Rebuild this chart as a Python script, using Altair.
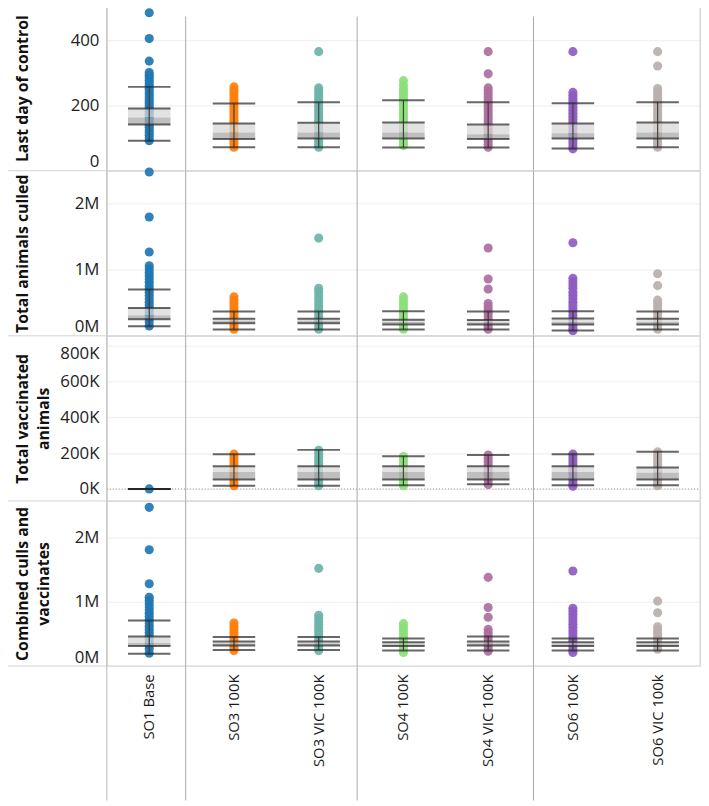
import altair as alt
import pandas as pd

scenarios = ["SO1 Base", "SO3 100K", "SO3 VIC 100K", "SO4 100K",
             "SO4 VIC 100K", "SO6 100K", "SO6 VIC 100k"]
colors = ["#1f77b4", "#ff7f0e", "#6cb4a8", "#8ce07a", "#ad6fa0", "#8f5cc2", "#bab0ac"]

# ---- Row 1: Last day of control (days) ----
last_day_dots = [
    [484, 405, 336, 301, 293, 285, 277, 269, 261, 253, 245, 237, 229, 221, 213, 205, 197,
     189, 181, 173, 165, 157, 149, 141, 133, 125, 117, 109, 100, 92],
    [257, 247, 238, 229, 219, 210, 201, 192, 182, 173, 164, 155, 146, 137, 128, 119, 110,
     101, 92, 83, 72],
    [365, 254, 245, 236, 226, 217, 208, 199, 189, 180, 171, 162, 153, 144, 135, 126, 117,
     108, 99, 90, 81, 72],
    [276, 262, 250, 241, 232, 222, 213, 204, 195, 185, 176, 167, 158, 149, 140, 131, 122,
     113, 104, 95, 86, 77],
    [365, 297, 254, 245, 236, 226, 217, 208, 199, 189, 180, 171, 162, 153, 144, 135, 126,
     117, 108, 99, 90, 81, 72],
    [365, 240, 231, 222, 213, 204, 194, 185, 176, 167, 158, 149, 140, 131, 122, 113, 104,
     95, 86, 76, 67],
    [365, 321, 252, 243, 234, 224, 215, 206, 197, 187, 178, 169, 160, 151, 142, 133, 124,
     115, 106, 97, 88, 80, 72],
]
# lower whisker, Q1, median, Q3, upper whisker
last_day_box = [
    [92, 142, 163, 191, 257],
    [72, 97, 117, 145, 206],
    [72, 99, 117, 147, 210],
    [71, 99, 117, 148, 216],
    [71, 97, 112, 142, 210],
    [68, 99, 115, 145, 207],
    [72, 99, 117, 148, 210],
]
last_day_ticks = [0, 200, 400]

# ---- Row 2: Total animals culled (millions) ----
culled_dots = [
    [2.48, 1.80, 1.27, 1.06, 1.01, 0.96, 0.91, 0.86, 0.81, 0.76, 0.71, 0.66, 0.61, 0.56,
     0.51, 0.46, 0.41, 0.36, 0.31, 0.26, 0.21, 0.15],
    [0.59, 0.54, 0.49, 0.44, 0.39, 0.34, 0.29, 0.24, 0.19, 0.14, 0.10],
    [1.48, 0.72, 0.67, 0.62, 0.56, 0.50, 0.45, 0.40, 0.35, 0.30, 0.25, 0.20, 0.15, 0.10],
    [0.59, 0.54, 0.49, 0.44, 0.39, 0.34, 0.29, 0.24, 0.19, 0.14, 0.10],
    [1.33, 0.86, 0.71, 0.49, 0.44, 0.39, 0.34, 0.29, 0.24, 0.19, 0.14, 0.10],
    [1.41, 0.87, 0.82, 0.77, 0.72, 0.66, 0.61, 0.56, 0.51, 0.46, 0.41, 0.36, 0.31, 0.26,
     0.21, 0.16, 0.11, 0.075],
    [0.94, 0.76, 0.54, 0.49, 0.44, 0.39, 0.34, 0.29, 0.24, 0.19, 0.14, 0.10],
]
culled_box = [
    [0.145, 0.25, 0.31, 0.42, 0.70],
    [0.095, 0.19, 0.23, 0.26, 0.37],
    [0.095, 0.19, 0.23, 0.26, 0.37],
    [0.095, 0.17, 0.21, 0.243, 0.373],
    [0.095, 0.17, 0.20, 0.24, 0.37],
    [0.08, 0.17, 0.21, 0.264, 0.373],
    [0.095, 0.17, 0.21, 0.26, 0.37],
]
culled_ticks = [0, 1, 2]

# ---- Row 3: Total vaccinated animals (thousands) ----
vacc_dots = [
    [0],
    [194, 176, 158, 140, 122, 104, 86, 68, 50, 33, 18],
    [216, 198, 180, 162, 144, 126, 108, 90, 72, 54, 36, 18],
    [181, 163, 145, 127, 109, 91, 73, 55, 37, 18],
    [189, 171, 153, 135, 117, 99, 81, 63, 45, 24],
    [194, 176, 158, 140, 122, 104, 86, 68, 50, 32, 15],
    [207, 189, 171, 153, 135, 117, 99, 81, 63, 45, 27, 18],
]
vacc_box = [
    [0, 0, 0, 0, 0],
    [18, 52, 94, 126, 194],
    [18, 52, 94, 126, 218],
    [20, 52, 94, 126, 183],
    [26, 52, 94, 126, 189],
    [20, 52, 94, 126, 194],
    [20, 52, 90, 120, 207],
]
vacc_ticks = [0, 200, 400, 600, 800]

# ---- Row 4: Combined culls and vaccinates (millions) ----
combined_dots = [
    [2.47, 1.81, 1.28, 1.07, 1.02, 0.97, 0.92, 0.87, 0.82, 0.77, 0.72, 0.67, 0.62, 0.57,
     0.52, 0.47, 0.42, 0.37, 0.32, 0.27, 0.20],
    [0.67, 0.62, 0.57, 0.52, 0.47, 0.42, 0.37, 0.32, 0.28, 0.24],
    [1.52, 0.79, 0.74, 0.69, 0.64, 0.59, 0.54, 0.49, 0.44, 0.39, 0.34, 0.29, 0.24],
    [0.66, 0.61, 0.56, 0.51, 0.46, 0.41, 0.36, 0.31, 0.26, 0.21],
    [1.38, 0.91, 0.76, 0.57, 0.52, 0.47, 0.42, 0.37, 0.32, 0.27, 0.23],
    [1.48, 0.90, 0.85, 0.80, 0.75, 0.70, 0.65, 0.60, 0.55, 0.50, 0.45, 0.40, 0.35, 0.30,
     0.25, 0.21],
    [1.01, 0.83, 0.61, 0.56, 0.51, 0.46, 0.41, 0.36, 0.31, 0.26],
]
combined_box = [
    [0.19, 0.31, 0.36, 0.46, 0.71],
    [0.25, 0.32, 0.35, 0.38, 0.45],
    [0.25, 0.32, 0.35, 0.38, 0.45],
    [0.24, 0.31, 0.34, 0.37, 0.43],
    [0.24, 0.32, 0.35, 0.38, 0.46],
    [0.24, 0.31, 0.34, 0.37, 0.43],
    [0.24, 0.31, 0.34, 0.37, 0.43],
]
combined_ticks = [0, 1, 2]

row_titles = [["Last day of control"], ["Total animals culled"],
              ["Total vaccinated", "animals"], ["Combined culls and", "vaccinates"]]

W, H = 600, 167
HEAD = 107
FONT = "Open Sans"
one = pd.DataFrame({"k": [0]})


def row_chart(dots, box, domain, ticks, suffix, title, flush,
              last=False, zero_line=False, sep_top=0):
    dots_df = pd.DataFrame([{"scenario": s, "value": v}
                            for s, vals in zip(scenarios, dots) for v in vals])
    box_df = pd.DataFrame([{"scenario": s, "lw": b[0], "q1": b[1], "med": b[2],
                            "q3": b[3], "uw": b[4]} for s, b in zip(scenarios, box)])
    xscale = alt.Scale(domain=scenarios, paddingInner=0, paddingOuter=0)
    if last:
        xaxis = alt.Axis(title=None, labelAngle=270, labelFont=FONT, labelFontSize=15,
                         labelColor="#1a1a1a", ticks=False, tickSize=0, domain=False,
                         grid=False, labelPadding=8)
    else:
        xaxis = None
    yscale = alt.Scale(domain=domain, nice=False, zero=False)
    yaxis = alt.Axis(values=ticks, labelExpr=f"format(datum.value, 'd') + '{suffix}'",
                     grid=True, gridColor="#ededed", gridWidth=1, domain=False,
                     ticks=False, tickSize=0, labelPadding=8, labelFont=FONT,
                     labelFontSize=17, labelColor="#222", labelFlush=flush,
                     title=title, titleX=-85, titleY=H / 2, titleAngle=270,
                     titleBaseline="middle", titleAlign="center", titleFont=FONT,
                     titleFontWeight="bold", titleFontSize=16, titleColor="#111",
                     titleLineHeight=21)

    def X(**kw):
        return alt.X("scenario:N", scale=xscale, axis=xaxis, sort=scenarios, **kw)

    def Y(field):
        return alt.Y(field, scale=yscale, axis=yaxis)

    bottom = H + 136 if last else H
    layers = []
    # row top border, spanning the header too
    layers.append(alt.Chart(one).mark_rule(color="#d2d2d2", strokeWidth=1).encode(
        x=alt.value(-HEAD), x2=alt.value(W), y=alt.value(0)))
    if last:
        layers.append(alt.Chart(one).mark_rule(color="#d2d2d2", strokeWidth=1).encode(
            x=alt.value(-HEAD), x2=alt.value(W), y=alt.value(H)))
    if zero_line:
        layers.append(alt.Chart(one).mark_rule(color="#9a9a9a", strokeWidth=1,
                                               strokeDash=[1, 2]).encode(
            x=alt.value(0), x2=alt.value(W), y=alt.Y(datum=0, scale=yscale, axis=yaxis)))
    # dots
    layers.append(alt.Chart(dots_df).mark_circle(size=85, opacity=0.92).encode(
        x=X(), y=Y("value:Q"),
        color=alt.Color("scenario:N", scale=alt.Scale(domain=scenarios, range=colors),
                        legend=None)))
    # box shading
    layers.append(alt.Chart(box_df).mark_bar(size=43, color="#d8d8d8", opacity=0.75).encode(
        x=X(), y=Y("q3:Q"), y2="med:Q"))
    layers.append(alt.Chart(box_df).mark_bar(size=43, color="#aaaaaa", opacity=0.75).encode(
        x=X(), y=Y("med:Q"), y2="q1:Q"))
    # whisker connector
    layers.append(alt.Chart(box_df).mark_rule(color="#404040", strokeWidth=1.2).encode(
        x=X(), y=Y("lw:Q"), y2="uw:Q"))
    # whisker and box edge lines
    layers.append(alt.Chart(box_df).transform_fold(["lw", "q1", "q3", "uw"], as_=["stat", "v"])
                  .mark_tick(color="#262626", size=43, thickness=2).encode(
        x=X(), y=Y("v:Q")))
    # group separators and borders
    for name, off in [("SO3 100K", -6), ("SO4 100K", -4), ("SO6 100K", 3)]:
        sep = pd.DataFrame({"scenario": [name]})
        layers.append(alt.Chart(sep).mark_rule(color="#a9a9a9", strokeWidth=1, xOffset=off)
                      .encode(x=X(bandPosition=0), y=alt.value(sep_top),
                              y2=alt.value(bottom)))
    layers.append(alt.Chart(one).mark_rule(color="#b5b5b5", strokeWidth=1).encode(
        x=alt.value(0), y=alt.value(0), y2=alt.value(bottom)))
    layers.append(alt.Chart(one).mark_rule(color="#d2d2d2", strokeWidth=1).encode(
        x=alt.value(W), y=alt.value(0), y2=alt.value(H)))
    return alt.layer(*layers).properties(width=W, height=H)


r1 = row_chart(last_day_dots, last_day_box, [0, 506], last_day_ticks, "",
               row_titles[0], True, sep_top=11)
r2 = row_chart(culled_dots, culled_box, [0, 2.5], culled_ticks, "M",
               row_titles[1], True)
r3 = row_chart(vacc_dots, vacc_box, [-67, 855], vacc_ticks, "K",
               row_titles[2], 11, zero_line=True)
r4 = row_chart(combined_dots, combined_box, [0, 2.57], combined_ticks, "M",
               row_titles[3], True, last=True)

chart = alt.vconcat(r1, r2, r3, r4, spacing=0, bounds="flush",
                    padding={"left": -8, "top": -8, "right": 0, "bottom": 0}
                    ).resolve_scale(x="independent", y="independent"
                    ).configure_view(stroke=None).configure(font=FONT)

chart.save("out.html", embed_options={"renderer": "svg", "actions": False})
